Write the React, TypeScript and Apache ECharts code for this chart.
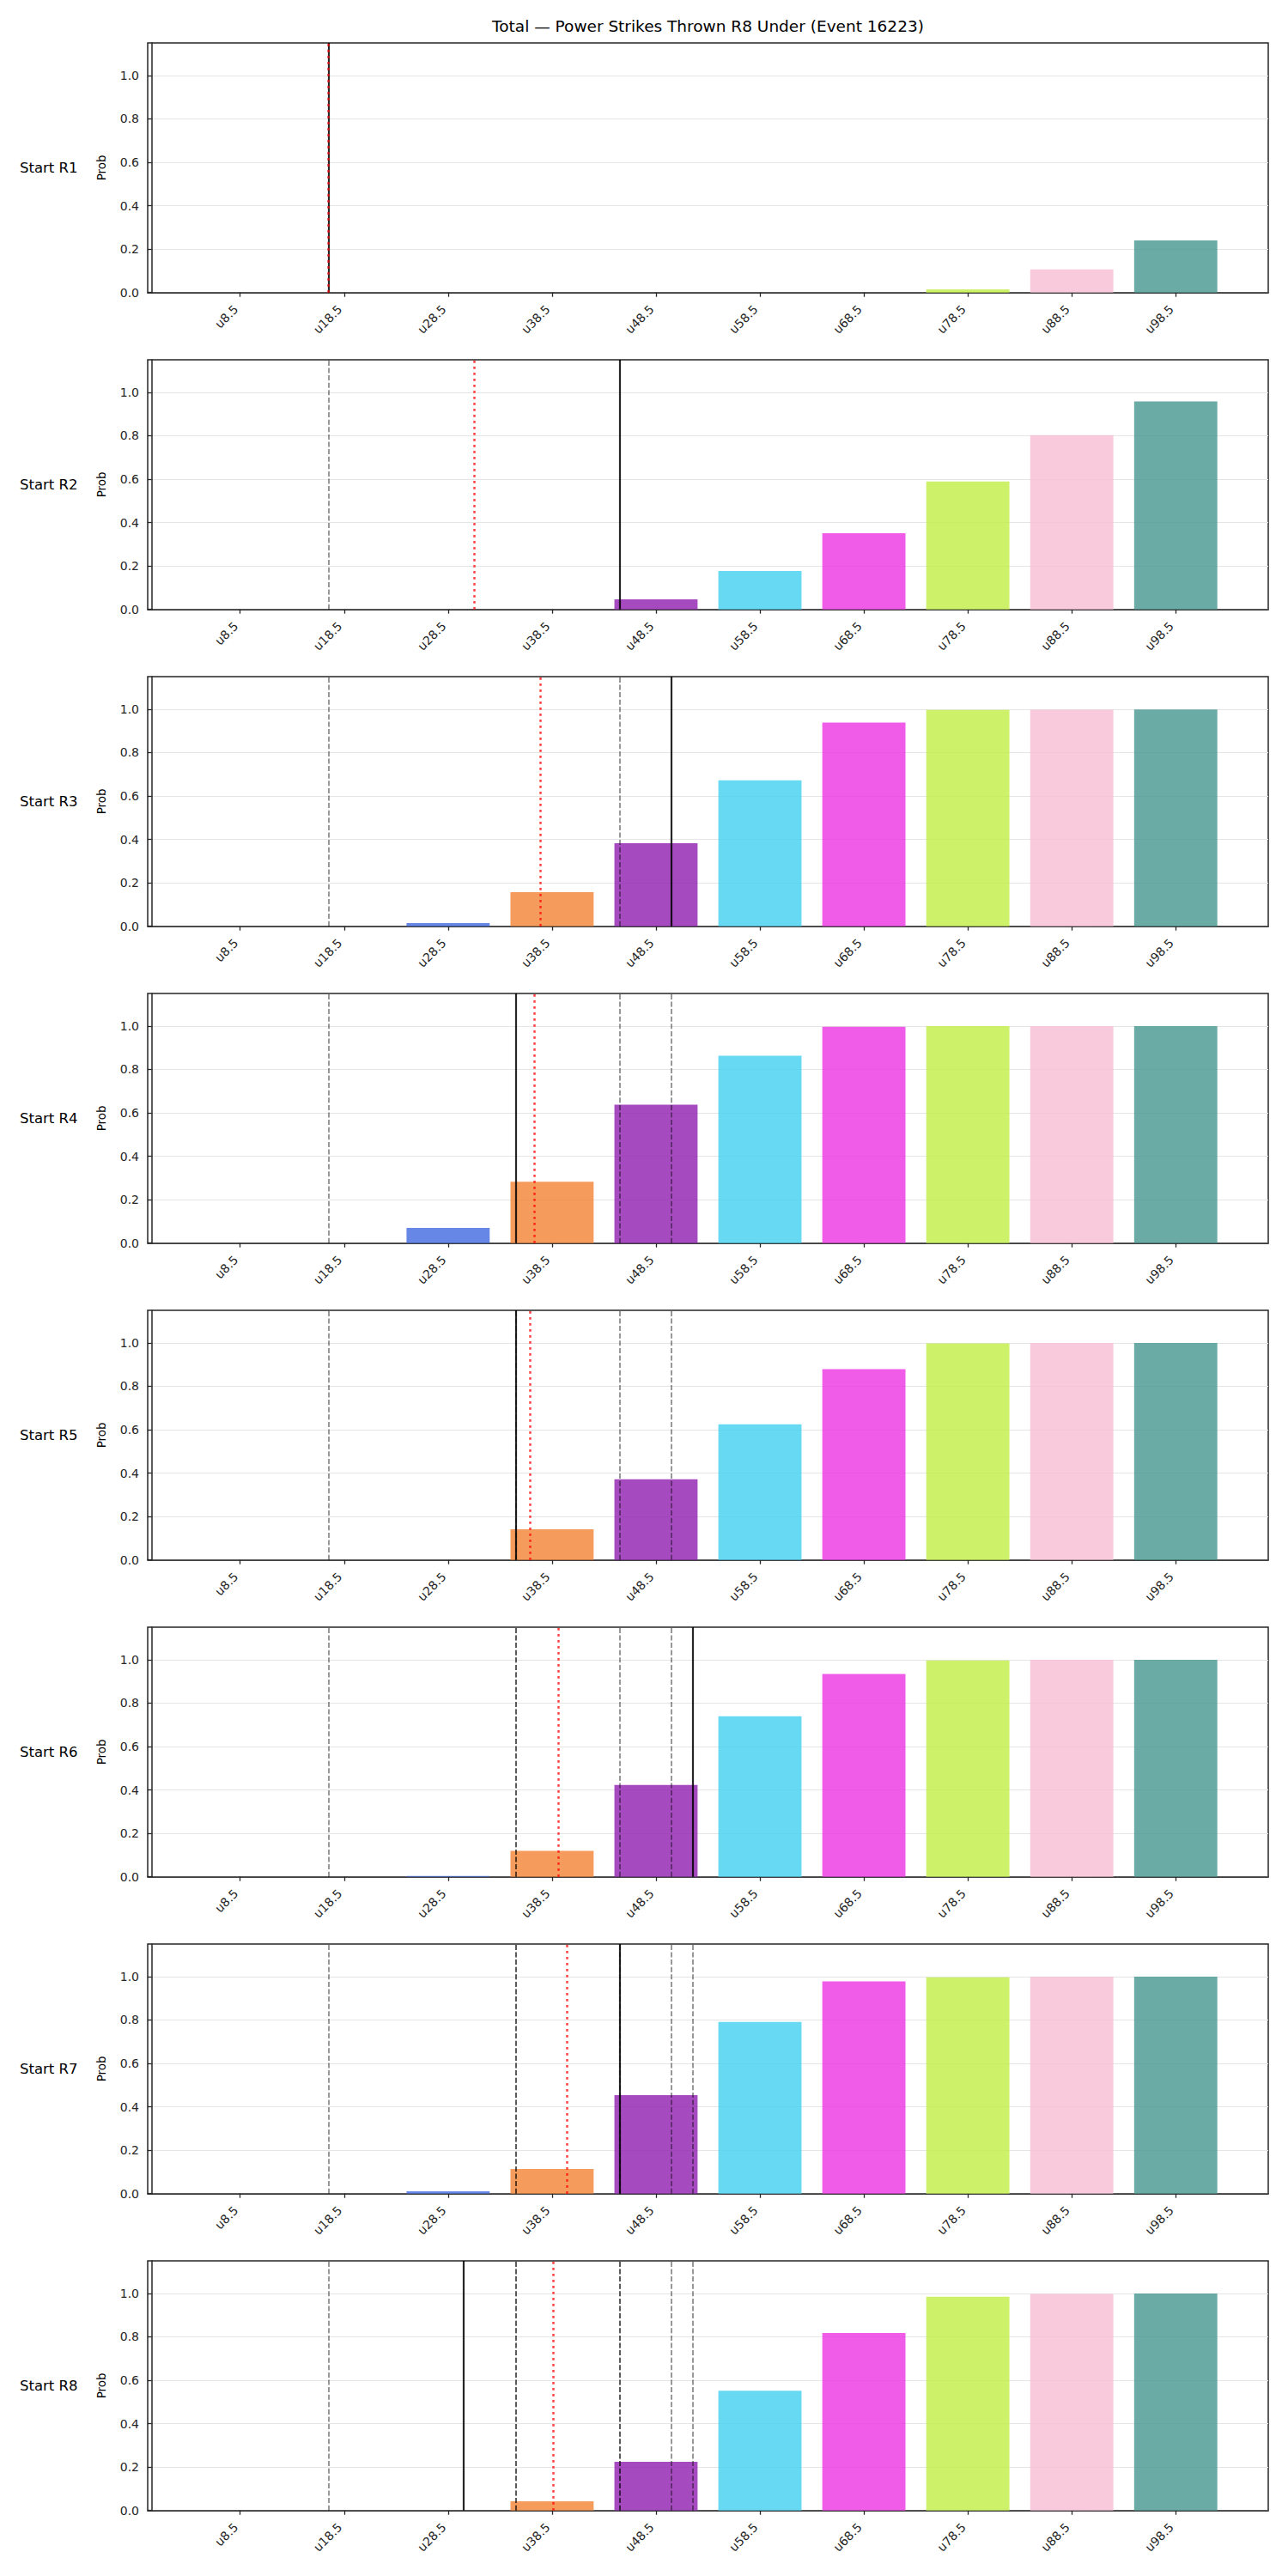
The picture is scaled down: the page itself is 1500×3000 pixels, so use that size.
import React, { useEffect, useRef } from "react";
import * as echarts from "echarts";

// ---- data ----
const titleText = "Total — Power Strikes Thrown R8 Under (Event 16223)";
const lineValues = [8.5, 18.5, 28.5, 38.5, 48.5, 58.5, 68.5, 78.5, 88.5, 98.5];
const tickLabels = ["u8.5", "u18.5", "u28.5", "u38.5", "u48.5", "u58.5", "u68.5", "u78.5", "u88.5", "u98.5"];
const rowLabels = ["Start R1", "Start R2", "Start R3", "Start R4", "Start R5", "Start R6", "Start R7", "Start R8"];
const yTicks = [0, 0.2, 0.4, 0.6, 0.8, 1.0];

const probR1 = [0, 0, 0, 0, 0, 0, 0, 0.015, 0.107, 0.24];
const probR2 = [0, 0, 0, 0, 0.046, 0.177, 0.351, 0.589, 0.803, 0.958];
const probR3 = [0, 0, 0.0145, 0.157, 0.383, 0.672, 0.938, 0.997, 0.998, 0.999];
const probR4 = [0, 0, 0.07, 0.283, 0.638, 0.863, 0.997, 1.0, 1.0, 1.0];
const probR5 = [0, 0, 0, 0.141, 0.372, 0.625, 0.879, 0.998, 1.0, 1.0];
const probR6 = [0, 0, 0.004, 0.119, 0.423, 0.74, 0.934, 0.997, 1.0, 1.0];
const probR7 = [0, 0, 0.011, 0.114, 0.454, 0.791, 0.978, 0.997, 1.0, 1.0];
const probR8 = [0, 0, 0, 0.042, 0.224, 0.552, 0.818, 0.985, 0.998, 1.0];
const probs = [probR1, probR2, probR3, probR4, probR5, probR6, probR7, probR8];

// actual running total at each start round (solid black, later dashed history)
const roundActual = [17, 45, 50, 35, 35, 52, 45, 30];
// projected total (red dotted)
const roundExpected = [17, 31.0, 37.4, 36.8, 36.4, 39.1, 39.9, 38.65];

const barColors = [
  "rgba(65,105,225,0.8)",
  "rgba(65,105,225,0.8)",
  "rgba(65,105,225,0.8)",
  "rgba(242,130,50,0.8)",
  "rgba(142,30,175,0.8)",
  "rgba(66,207,240,0.8)",
  "rgba(236,51,226,0.8)",
  "rgba(192,239,69,0.8)",
  "rgba(248,189,210,0.8)",
  "rgba(69,150,142,0.8)",
];

// ---- layout ----
const W = 1500;
const H = 3000;
const GRID_LEFT = 172;
const GRID_RIGHT = 23;
const TOP0 = 50;
const STEP = 369;
const GH = 290.7;
const X_MIN = -0.4;
const X_MAX = 107.4;
const BAR_UNITS = 8;
const FONT = "DejaVu Sans";
const DARK = "#262626";

export default function App() {
  const ref = useRef<HTMLDivElement>(null);

  useEffect(() => {
    if (!ref.current) return;
    const chart = echarts.init(ref.current, undefined, { renderer: "svg", width: W, height: H });
    const plotW = W - GRID_LEFT - GRID_RIGHT;
    const barWidth = (plotW / (X_MAX - X_MIN)) * BAR_UNITS;

    const grids: any[] = [];
    const xAxes: any[] = [];
    const yAxes: any[] = [];
    const series: any[] = [];
    const graphics: any[] = [];

    probs.forEach((p, k) => {
      const top = TOP0 + k * STEP;
      grids.push({
        left: GRID_LEFT,
        right: GRID_RIGHT,
        top,
        height: GH,
        show: true,
        borderColor: DARK,
        borderWidth: 1.5,
        backgroundColor: "transparent",
      });
      xAxes.push({
        type: "value",
        gridIndex: k,
        min: X_MIN,
        max: X_MAX,
        axisLine: { show: true, onZero: false, lineStyle: { color: DARK, width: 1.5 } },
        axisTick: { show: true, length: 5, customValues: lineValues, lineStyle: { color: DARK, width: 1.3 } },
        axisLabel: {
          show: true,
          customValues: lineValues,
          rotate: 45,
          margin: 12,
          padding: [0, 7, 0, 0],
          fontSize: 14,
          fontFamily: FONT,
          color: DARK,
          formatter: (v: number) => {
            const i = lineValues.findIndex((x) => Math.abs(x - v) < 1e-6);
            return i >= 0 ? tickLabels[i] : "";
          },
        },
        splitLine: { show: false },
      });
      yAxes.push({
        type: "value",
        gridIndex: k,
        min: 0,
        max: 1.15,
        name: "Prob",
        nameLocation: "middle",
        nameGap: 47,
        nameTextStyle: { fontSize: 13.5, fontFamily: FONT, color: "#000" },
        axisLine: { show: true, lineStyle: { color: DARK, width: 1.5 } },
        axisTick: { show: true, length: 5, customValues: yTicks, lineStyle: { color: DARK, width: 1.3 } },
        axisLabel: {
          show: true,
          customValues: yTicks,
          margin: 10,
          fontSize: 14,
          fontFamily: FONT,
          color: DARK,
          formatter: (v: number) => v.toFixed(1),
        },
        splitLine: { show: true, lineStyle: { color: "#e5e5e5", width: 1 } },
      });

      const mk: any[] = [];
      for (let j = 0; j < k; j++) {
        mk.push({
          xAxis: roundActual[j],
          lineStyle: { color: "rgba(0,0,0,0.5)", width: 1.6, type: [6, 2.6] },
        });
      }
      mk.push({ xAxis: roundActual[k], lineStyle: { color: "rgba(0,0,0,0.85)", width: 2.2, type: "solid" } });
      mk.push({ xAxis: roundExpected[k], lineStyle: { color: "rgba(255,0,0,0.75)", width: 2.5, type: [2.6, 4.4] } });

      series.push({
        type: "bar",
        xAxisIndex: k,
        yAxisIndex: k,
        barWidth,
        silent: true,
        data: p.map((v, i) => ({ value: [lineValues[i], v], itemStyle: { color: barColors[i] } })),
        markLine: {
          silent: true,
          symbol: ["none", "none"],
          label: { show: false },
          animation: false,
          data: mk,
        },
      });

      graphics.push({
        type: "text",
        x: 23,
        y: top + GH / 2,
        style: {
          text: rowLabels[k],
          font: `16.5px "${FONT}"`,
          fill: "#000",
          textVerticalAlign: "middle",
          verticalAlign: "middle",
        },
      });
    });

    graphics.push({
      type: "text",
      x: GRID_LEFT + plotW / 2,
      y: 30,
      style: {
        text: titleText,
        font: `18.5px "${FONT}"`,
        fill: "#000",
        textAlign: "center",
        align: "center",
        textVerticalAlign: "middle",
        verticalAlign: "middle",
      },
    });

    chart.setOption({
      animation: false,
      backgroundColor: "#ffffff",
      grid: grids,
      xAxis: xAxes,
      yAxis: yAxes,
      series,
      graphic: graphics,
    });

    return () => chart.dispose();
  }, []);

  return (
    <div
      ref={ref}
      style={{ position: "absolute", left: 0, top: 0, width: W, height: H, background: "#fff" }}
    />
  );
}
